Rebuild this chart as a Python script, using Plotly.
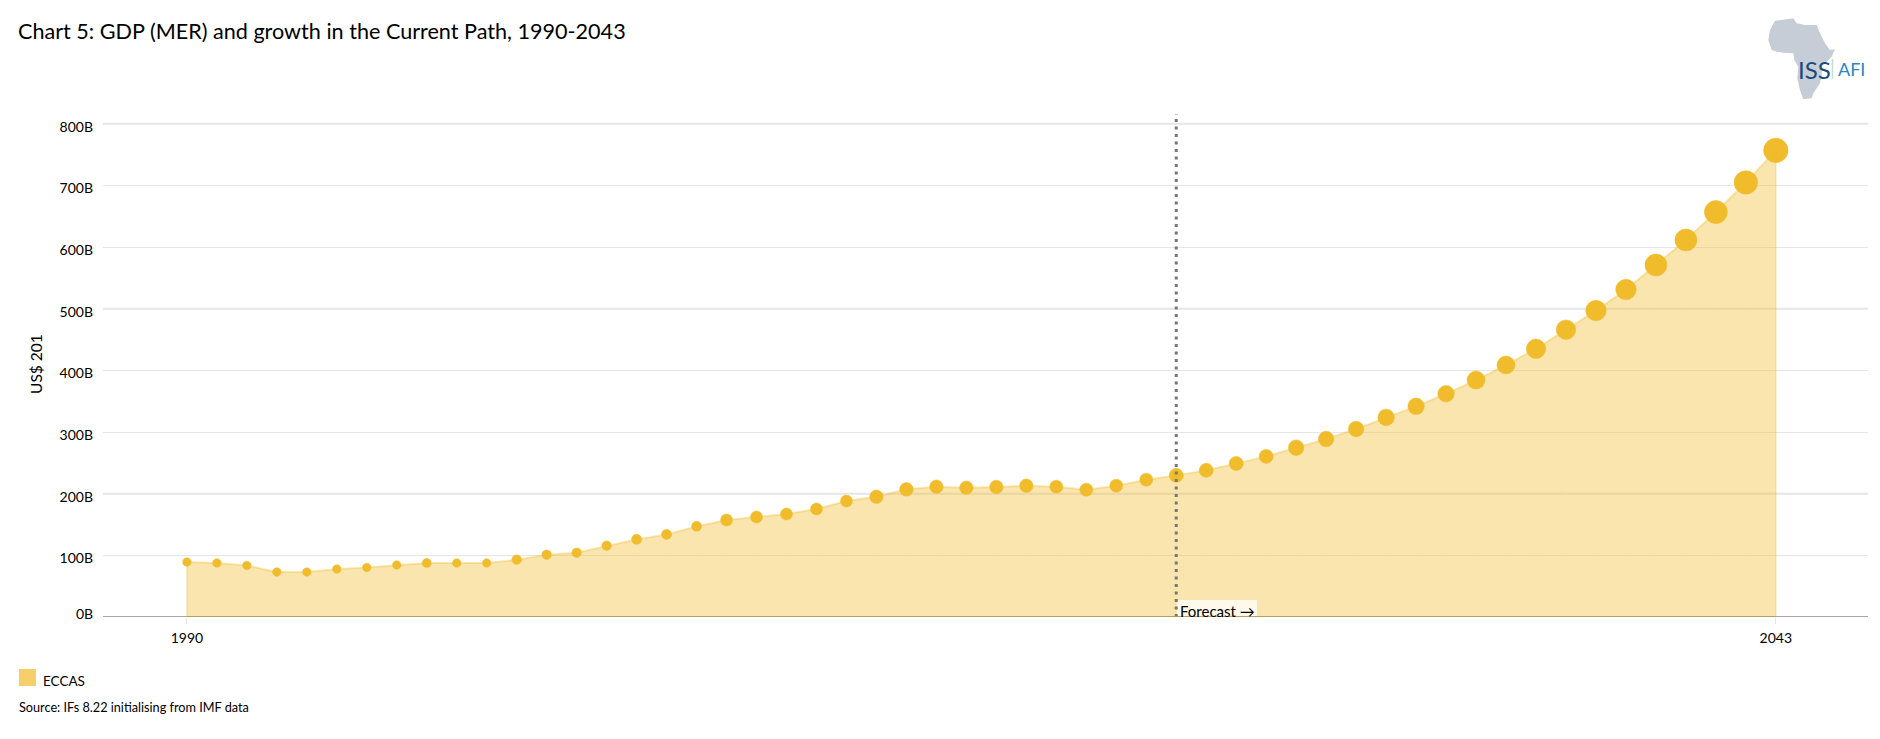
import plotly.graph_objects as go

W, H = 1880, 739
ML, MR, MT, MB = 103, 12, 114, 122

years = list(range(1990, 2044))
gdp_billion = [
    89.2, 87.6, 83.7, 73.0, 73.0, 77.8, 80.4, 84.3, 87.6, 87.6, 87.6, 93.0, 101.0, 104.3, 115.6,
    125.9, 134.0, 147.0, 157.3, 162.2, 167.0, 175.2, 188.0, 195.0, 207.0, 211.3, 209.7, 210.8, 213.0, 211.3,
    206.5, 213.0, 222.7, 229.7, 237.8, 249.0, 260.5, 274.6, 288.7, 304.9, 323.7, 341.6, 362.0, 384.3,
    408.7, 435.0, 466.0, 497.0, 531.0, 570.8, 611.4, 656.7, 704.8, 756.7,
]
bubble_size = [
    8.5, 8.5, 8.5, 8.5, 8.5, 8.5, 8.5, 8.5, 9, 8.5, 8.5, 9.5, 9.5, 9.5, 9.5,
    10, 10, 10, 12, 12, 12, 12, 12, 13.5, 13.5, 13.5, 13.5, 13.5, 13.5, 13,
    13, 13, 13, 14, 14, 14, 14, 15.5, 15.5, 15.5, 16.5, 16.5, 16.5, 18,
    18, 19.5, 19.5, 20.5, 20.5, 22, 22, 23, 23.5, 24.5,
]
y_ticks = [100, 200, 300, 400, 500, 600, 700, 800]
y_labels = ["100B", "200B", "300B", "400B", "500B", "600B", "700B", "800B"]
thick_grid = [200, 500, 800]
x_ticks = [1990, 2043]
forecast_start = 2023
series_name = "ECCAS"

FONT = "Lato"
GOLD = "#F0BC2C"
PX_PER_B = 0.6166
PX_PER_YEAR = 29.98
X0 = 186.9


def px(x):
    return (x - ML) / (W - ML - MR)


def py(y):
    return 1 - (y - MT) / (H - MT - MB)


xr = [1990 + (ML - X0) / PX_PER_YEAR, 1990 + (W - MR - X0) / PX_PER_YEAR]
yr = [0, (H - MT - MB) / PX_PER_B]

fig = go.Figure()
fig.add_trace(go.Scatter(
    x=years, y=gdp_billion, mode="lines", fill="tozeroy",
    fillcolor="rgba(240,188,44,0.39)",
    line=dict(color="rgba(240,188,44,0.35)", width=2),
    name=series_name, hoverinfo="skip", showlegend=False,
))
fig.add_trace(go.Bar(
    x=years[1:-1], y=gdp_billion[1:-1], width=0.035,
    marker=dict(color="rgba(255,255,255,0.2)", line=dict(width=0)),
    hoverinfo="skip", showlegend=False,
))
fig.add_trace(go.Scatter(
    x=years, y=gdp_billion, mode="markers",
    marker=dict(size=bubble_size, color=GOLD, opacity=1, line=dict(color="rgba(240,188,44,0.5)", width=1)),
    name=series_name, showlegend=False,
))

shapes = []
for v in thick_grid:
    shapes.append(dict(type="line", xref="paper", yref="y", x0=0, x1=1, y0=v, y1=v,
                       line=dict(color="#E6E6E6", width=2), layer="below"))
for i in (0, -1):
    shapes.append(dict(type="line", xref="x", yref="y", x0=years[i], x1=years[i], y0=0, y1=gdp_billion[i],
                       line=dict(color="rgba(240,188,44,0.3)", width=1.5)))
shapes.append(dict(type="rect", xref="paper", yref="paper", x0=px(1177), x1=px(1257), y0=py(600), y1=py(617),
                   fillcolor="rgba(255,255,255,0.75)", line=dict(width=0)))
shapes.append(dict(type="line", xref="x", yref="paper", x0=forecast_start, x1=forecast_start, y0=0, y1=1,
                   line=dict(color="#777777", width=3, dash="3px,4.5px")))
# legend swatch
shapes.append(dict(type="rect", xref="paper", yref="paper", x0=px(19), x1=px(36), y0=py(669), y1=py(686),
                   fillcolor="#F6CF6B", line=dict(width=0)))
# logo: Africa silhouette and separator
africa = [(525, 62), (545, 60), (580, 55), (590, 70), (615, 75), (650, 75), (660, 100), (675, 130), (690, 150),
          (705, 148), (695, 170), (680, 185), (665, 200), (665, 225), (660, 250), (640, 280), (635, 295), (610, 298),
          (600, 270), (592, 235), (595, 200), (583, 180), (580, 160), (550, 158), (530, 155), (515, 150), (505, 120),
          (510, 90)]
path = "M " + " L ".join(f"{px(1600 + a / 3):.5f} {py(b / 3):.5f}" for a, b in africa) + " Z"
shapes.append(dict(type="path", xref="paper", yref="paper", path=path, fillcolor="#C6CDD6", line=dict(width=0)))
shapes.append(dict(type="line", xref="paper", yref="paper", x0=px(1832.5), x1=px(1832.5), y0=py(59), y1=py(79),
                   line=dict(color="#C3DDD8", width=1.5)))
# baseline: grey axis, darker gold under the area
shapes.append(dict(type="line", xref="paper", yref="y", x0=0, x1=1, y0=0, y1=0,
                   line=dict(color="#8A8A8A", width=1.5)))
shapes.append(dict(type="line", xref="x", yref="y", x0=years[0], x1=years[-1], y0=0, y1=0,
                   line=dict(color="#B9A04E", width=1.5)))


def note(text, x, y, size, color="#000000", xanchor="left", angle=0):
    return dict(text=text, xref="paper", yref="paper", x=px(x), y=py(y), xanchor=xanchor, yanchor="middle",
                showarrow=False, textangle=angle, borderpad=0,
                font=dict(family=FONT, size=size, color=color))


annotations = [
    note("0B", 94, 613, 14, xanchor="right"),
    note("US$ 201", 35.5, 364.5, 15.5, xanchor="center", angle=-90),
    note("Forecast \u2192", 1179, 611, 15),
    note(series_name, 42, 681, 13.5),
    note("Source: IFs 8.22 initialising from IMF data", 18, 707, 12.7),
    note("ISS", 1797, 69, 24, color="#1A4A7A"),
    note("AFI", 1837, 69, 18, color="#2E86C1"),
]

fig.update_layout(
    width=W, height=H,
    margin=dict(l=ML, r=MR, t=MT, b=MB, autoexpand=False),
    paper_bgcolor="white", plot_bgcolor="white",
    font=dict(family=FONT, size=14, color="#000000"),
    showlegend=False, bargap=0,
    title=dict(text="Chart 5: GDP (MER) and growth in the Current Path, 1990-2043",
               x=18 / W, xanchor="left", xref="container",
               y=1 - 31 / H, yanchor="middle", font=dict(family=FONT, size=21.6, color="#000000")),
    xaxis=dict(range=xr, tickvals=x_ticks, ticktext=[str(v) for v in x_ticks], showgrid=False, zeroline=False,
               ticks="outside", ticklen=6, tickcolor="#E6E6E6", tickwidth=1, ticklabelstandoff=2,
               showline=False, fixedrange=True),
    yaxis=dict(range=yr, tickvals=y_ticks, ticktext=y_labels, showgrid=True, gridcolor="#E6E6E6", gridwidth=1,
               zeroline=False, showline=False, ticks="", ticklabelstandoff=9, ticklabelshift=3, fixedrange=True),
    shapes=shapes,
    annotations=annotations,
)
fig.write_html("out.html", config=dict(displayModeBar=False),
               post_script="document.body.style.margin='0';document.documentElement.style.overflow='hidden';")
